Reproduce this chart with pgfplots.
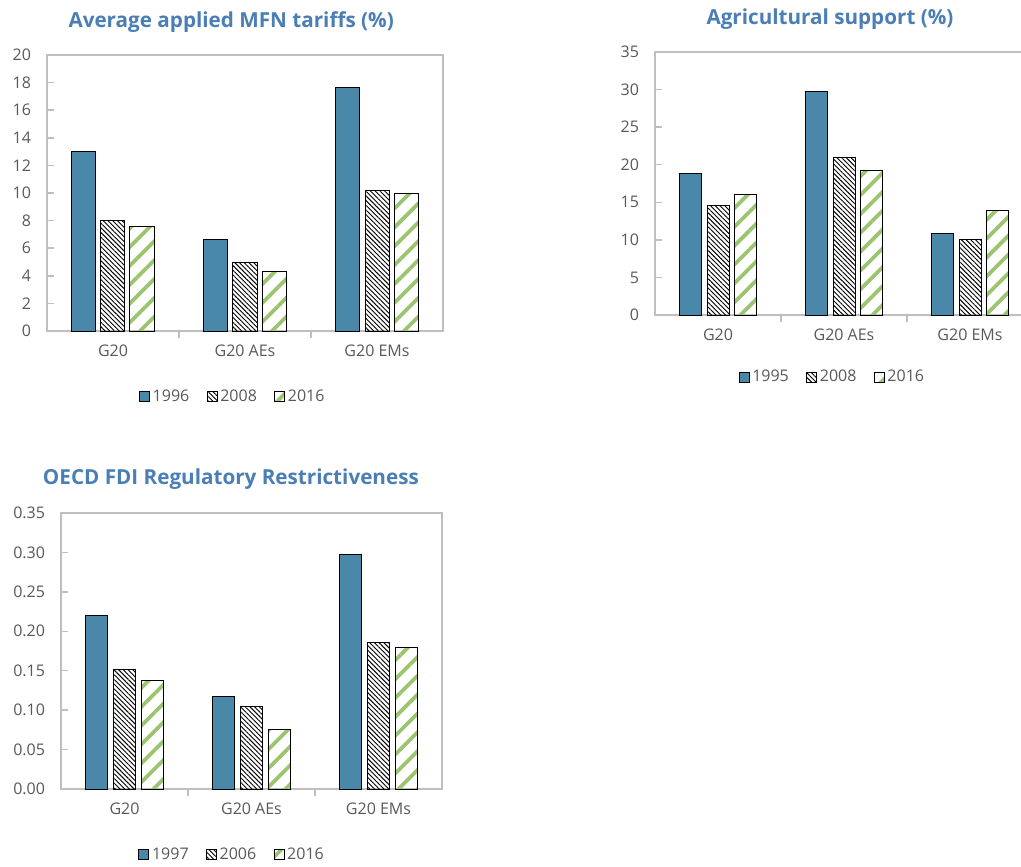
\documentclass[border=0pt]{standalone}
\usepackage{fontspec}
\setmainfont{Open Sans}
\usepackage{pgfplots}
\pgfplotsset{compat=1.18}
\usetikzlibrary{patterns.meta}
\definecolor{barblue}{RGB}{74,136,170}
\definecolor{titleblue}{RGB}{74,126,180}
\definecolor{hgreen}{RGB}{155,196,110}
\definecolor{axgray}{RGB}{191,191,191}
\definecolor{txtgray}{RGB}{89,89,89}

\pgfplotsset{
 mystyle/.style={
  scale only axis, anchor=north west,
  xmin=-0.5, xmax=2.5, ymin=0,
  xtick={0.5,1.5}, xticklabels={,},
  extra x ticks={0,1,2}, extra x tick labels={G20,G20 AEs,G20 EMs},
  extra x tick style={major tick length=0pt, xticklabel style={yshift=-7pt}},
  tick pos=left, tick align=inside, major tick length=5.5pt,
  axis line style={draw=axgray, line width=1.1pt},
  tick style={draw=axgray, line width=1.1pt},
  tick label style={font=\fontsize{12}{14}\selectfont, text=txtgray},
  /pgf/number format/assume math mode=true,
  yticklabel style={xshift=-8.5pt},
  title style={font=\bfseries\fontsize{15.5}{18}\selectfont, text=titleblue, anchor=center},
  legend style={draw=none, fill=none, legend columns=3, anchor=center, font=\fontsize{12}{14}\selectfont, text=txtgray, /tikz/every even column/.append style={column sep=11pt}},
  legend cell align=left,
 },
 myleg/.style={
  legend image code/.code={\draw[##1] (0pt,-3.75pt) rectangle (7.5pt,3.75pt);},
 },
 s1/.style={fill=barblue, draw=black, line width=0.75pt},
 s2/.style={draw=black, line width=0.75pt, pattern={Lines[angle=-45,distance=2.5pt,line width=0.7pt]}, pattern color=black},
 s3/.style={draw=black, line width=0.75pt, pattern={Lines[angle=45,distance=10pt,line width=2.8pt]}, pattern color=hgreen},
}

\begin{document}
\begin{tikzpicture}
\fill[white] (0,0) rectangle (765.75pt,-650.25pt);

% Chart 1
\begin{axis}[mystyle,
  at={(35.25pt,-41.25pt)}, width=297pt, height=207pt,
  ybar=3.75pt, bar width=18pt,
  ymax=20, ytick={0,2,...,20},
  title={Average applied MFN tariffs (\%)},
  title style={at={(0.465,1)}, yshift=18.75pt},
  legend style={at={(0.47,-0.239)}},
  myleg,
]
\addplot[s1] coordinates {(0,13.04) (1,6.64) (2,17.68)};
\addplot[s2] coordinates {(0,8.0) (1,4.95) (2,10.19)};
\addplot[s3] coordinates {(0,7.56) (1,4.3) (2,10.0)};
\legend{1996,2008,2016}
\end{axis}

% Chart 2
\begin{axis}[mystyle,
  at={(491.25pt,-39pt)}, width=283.5pt, height=197.25pt,
  ybar=4.1pt, bar width=16.5pt,
  ymax=35, ytick={0,5,...,35},
  title={Agricultural support (\%)},
  title style={at={(0.463,1)}, yshift=18.75pt},
  legend style={at={(0.47,-0.236)}},
  myleg,
]
\addplot[s1] coordinates {(0,18.8) (1,29.7) (2,10.9)};
\addplot[s2] coordinates {(0,14.6) (1,21.0) (2,10.0)};
\addplot[s3] coordinates {(0,16.0) (1,19.2) (2,13.9)};
\legend{1995,2008,2016}
\end{axis}

% Chart 3
\begin{axis}[mystyle,
  at={(45.75pt,-384.75pt)}, width=285.75pt, height=207pt,
  ybar=4pt, bar width=17pt,
  ymax=0.35, ytick={0,0.05,0.1,0.15,0.2,0.25,0.3,0.35},
  scaled y ticks=false,
  yticklabel style={/pgf/number format/.cd, fixed, fixed zerofill, precision=2},
  title={OECD FDI Regulatory Restrictiveness},
  title style={at={(0.446,1)}, yshift=19.5pt},
  legend style={at={(0.45,-0.239)}},
  myleg,
]
\addplot[s1] coordinates {(0,0.220) (1,0.117) (2,0.297)};
\addplot[s2] coordinates {(0,0.151) (1,0.104) (2,0.186)};
\addplot[s3] coordinates {(0,0.137) (1,0.076) (2,0.180)};
\legend{1997,2006,2016}
\end{axis}

\pgfresetboundingbox
\path[use as bounding box] (0,0) rectangle (765.75pt,-650.25pt);
\end{tikzpicture}
\end{document}
